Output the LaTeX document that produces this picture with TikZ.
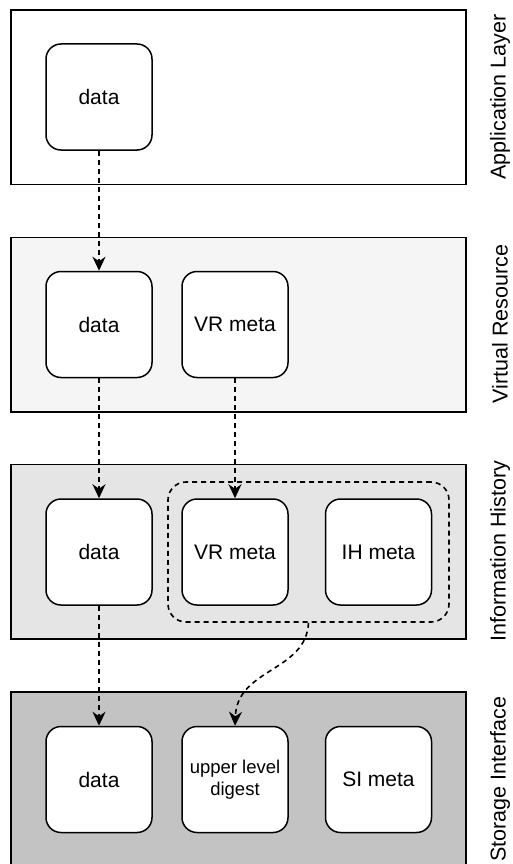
\documentclass[tikz,border=0pt]{standalone}
\usepackage{fontspec}
\setmainfont{Liberation Sans}
\usetikzlibrary{arrows.meta}

\tikzset{
  layer/.style={draw=black, line width=1.5pt, minimum width=455pt, minimum height=174.5pt, inner sep=0pt},
  block/.style={draw=black, fill=white, line width=1.5pt, rounded corners=15pt,
    minimum width=106pt, minimum height=106pt, inner sep=0pt, align=center,
    font=\fontsize{21}{24}\selectfont},
  group/.style={draw=black, line width=1.6pt, dash pattern=on 5pt off 4pt, rounded corners=18pt, inner sep=0pt},
  flow/.style={draw=black, line width=1.6pt, dash pattern=on 5pt off 4pt,
    -{Stealth[length=14pt, width=13pt, inset=4.5pt]}},
  layername/.style={rotate=90, font=\fontsize{21.5}{24}\selectfont, inner sep=0pt}
}

\begin{document}
\begin{tikzpicture}[x=1pt, y=-1pt]
\useasboundingbox (0,0) rectangle (513,864);
\clip (0,0) rectangle (513,864);

% layer bands
\node[layer, fill=white]      (app)  at (238.5, 97.25)  {};
\node[layer, fill=gray!8]     (vres) at (238.5, 324.75) {};
\node[layer, fill=gray!20]    (ihis) at (238.5, 551.75) {};
\node[layer, fill=gray!47]    (stor) at (238.5, 779.25) {};

% layer names
\node[layername] (appname)  at (500, 97)  {Application Layer};
\node[layername] (vresname) at (500, 324) {Virtual Resource};
\node[layername] (ihisname) at (500, 551) {Information History};
\node[layername] (storname) at (500, 779) {Storage Interface};

% application layer
\node[block] (appdata) at (99, 97) {data};

% virtual resource layer
\node[block] (vrdata) at (99, 324.5)  {data};
\node[block] (vrmeta) at (235, 324.5) {VR meta};

% information history layer
\node[group, minimum width=281pt, minimum height=140pt] (metagroup) at (308.5, 552) {};
\node[block] (ihdata)   at (99, 552)    {data};
\node[block] (ihvrmeta) at (235, 552)   {VR meta};
\node[block] (ihmeta)   at (378.5, 552) {IH meta};

% storage interface layer
\node[block] (sidata)   at (99, 779.5)    {data};
\node[block, font=\fontsize{18.5}{22}\selectfont] (sidigest) at (235, 779.5) {upper level\\digest};
\node[block] (simeta)   at (378.5, 779.5) {SI meta};

% connectors
\draw[flow] (appdata.south) -- (vrdata.north);
\draw[flow] (vrdata.south) -- (ihdata.north);
\draw[flow] (vrmeta.south) -- (ihvrmeta.north);
\draw[flow] (ihdata.south) -- (sidata.north);
\draw[flow] (metagroup.south) .. controls (306,672) and (237,668) .. (sidigest.north);
\end{tikzpicture}
\end{document}
